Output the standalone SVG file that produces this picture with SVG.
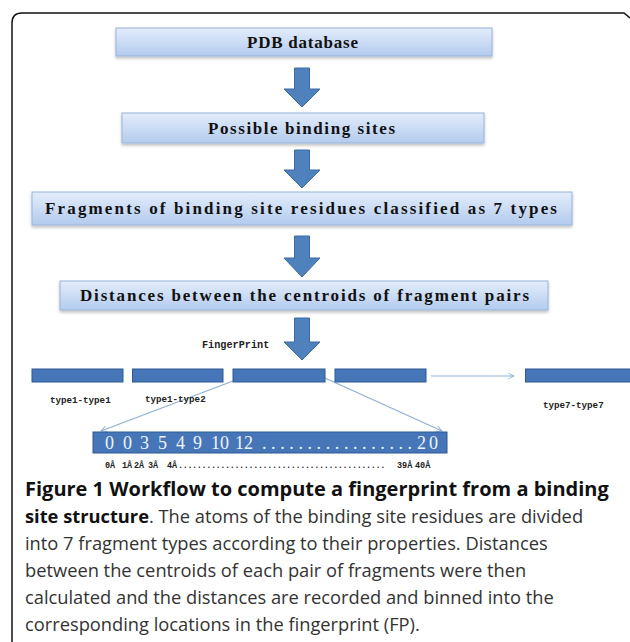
<svg xmlns="http://www.w3.org/2000/svg" width="630" height="642" viewBox="0 0 630 642">
<defs>
<linearGradient id="boxg" x1="0" y1="0" x2="0" y2="1">
<stop offset="0" stop-color="#e3edfb"/>
<stop offset="1" stop-color="#b3cbee"/>
</linearGradient>
<filter id="sh" x="-5%" y="-20%" width="110%" height="160%">
<feDropShadow dx="0" dy="2" stdDeviation="1.5" flood-color="#000" flood-opacity="0.25"/>
</filter>
<marker id="vh" viewBox="0 0 10 10" refX="9" refY="5" markerWidth="7" markerHeight="7" orient="auto" markerUnits="userSpaceOnUse">
<path d="M1,1 L9,5 L1,9" fill="none" stroke="#8eafd6" stroke-width="1.3"/>
</marker>
</defs>
<style>
.box{fill:url(#boxg);stroke:#98b4da;stroke-width:1;filter:url(#sh)}
.bt{font-family:"Liberation Serif","DejaVu Serif",serif;font-weight:bold;font-size:17px;fill:#111}
.arr{fill:#4f81bd;stroke:#3b6aa3;stroke-width:1}
.bar{fill:#4676b8;stroke:#2d5a94;stroke-width:1}
.sm{font-family:"Liberation Mono","DejaVu Sans Mono",monospace;font-weight:bold;font-size:9.2px;fill:#222}
.con{stroke:#8eafd6;stroke-width:1.2;fill:none}
.cap{font-family:"Open Sans","Noto Sans",sans-serif;font-size:18.3px;fill:#333}
.capb{font-family:"Open Sans","Noto Sans",sans-serif;font-size:20px;font-weight:bold;fill:#111}
</style>
<rect width="630" height="642" fill="#fff"/>
<path d="M12,642 V23 Q12,13 22,13 H624 L630,18" fill="none" stroke="#111" stroke-width="1.5"/>

<g id="n-pdb"><rect class="box" x="116" y="28" width="376" height="28"/><text class="bt" x="247" y="48" textLength="111" lengthAdjust="spacing">PDB database</text></g>
<g id="n-sites"><rect class="box" x="122" y="113" width="362" height="30"/><text class="bt" x="208" y="134" textLength="187" lengthAdjust="spacing">Possible binding sites</text></g>
<g id="n-frag"><rect class="box" x="32" y="192" width="540" height="33"/><text class="bt" x="45" y="214" textLength="512" lengthAdjust="spacing">Fragments of binding site residues classified as 7 types</text></g>
<g id="n-dist"><rect class="box" x="60" y="281" width="488" height="29"/><text class="bt" x="80" y="301" textLength="449" lengthAdjust="spacing">Distances between the centroids of fragment pairs</text></g>

<g id="connectors">
<path class="arr" d="M294.5,68 H309.5 V89 H320 L302,107 L284,89 H294.5 Z"/>
<path class="arr" d="M294.5,150 H309.5 V170 H320 L302,188 L284,170 H294.5 Z"/>
<path class="arr" d="M294.5,236 H309.5 V258 H320 L302,277 L284,258 H294.5 Z"/>
<path class="arr" d="M294.5,318 H309.5 V342 H320 L302,360 L284,342 H294.5 Z"/>
<line class="con" x1="431" y1="376" x2="514" y2="376" marker-end="url(#vh)"/>
<line class="con" x1="233" y1="381" x2="101" y2="431" marker-end="url(#vh)"/>
<line class="con" x1="325" y1="378" x2="442" y2="431" marker-end="url(#vh)"/>
</g>

<g id="n-fp-label"><text class="sm" x="202" y="348" style="font-size:10.2px">FingerPrint</text></g>
<g id="n-bar1"><rect class="bar" x="32" y="369" width="91" height="13"/><text class="sm" x="50" y="403">type1-type1</text></g>
<g id="n-bar2"><rect class="bar" x="132.5" y="369" width="90.5" height="13"/><text class="sm" x="145" y="402">type1-type2</text></g>
<g id="n-bar3"><rect class="bar" x="233" y="369" width="92" height="13"/></g>
<g id="n-bar4"><rect class="bar" x="335" y="369" width="91" height="13"/></g>
<g id="n-bar7"><rect class="bar" x="525.5" y="369" width="106" height="13"/><text class="sm" x="543" y="408">type7-type7</text></g>

<g id="n-fpbar">
<rect class="bar" x="93" y="432" width="354" height="21"/>
<text style="font-family:'Liberation Serif','DejaVu Serif',serif;font-size:18px;fill:#eef3fb"><tspan x="105" y="449">0</tspan><tspan x="123" y="449">0</tspan><tspan x="140" y="449">3</tspan><tspan x="158" y="449">5</tspan><tspan x="176" y="449">4</tspan><tspan x="193" y="449">9</tspan><tspan x="211" y="449">10</tspan><tspan x="235" y="449">12</tspan><tspan x="262" y="449" letter-spacing="4.6">.................</tspan><tspan x="417" y="449">2</tspan><tspan x="429" y="449">0</tspan></text>
</g>
<g id="n-scale">
<text class="sm" style="font-size:8.5px"><tspan x="105" y="468">0Å</tspan><tspan x="122" y="468">1Å</tspan><tspan x="134" y="468">2Å</tspan><tspan x="148" y="468">3Å</tspan><tspan x="167" y="468">4Å</tspan><tspan x="178" y="468" letter-spacing="-0.4">............................................</tspan><tspan x="397" y="468">39Å</tspan><tspan x="415" y="468">40Å</tspan></text>
</g>

<g id="caption">
<text class="capb" x="25" y="496">Figure 1 Workflow to compute a fingerprint from a binding</text>
<text class="cap" x="25" y="523"><tspan class="capb" style="font-size:18.3px">site structure</tspan>. The atoms of the binding site residues are divided</text>
<text class="cap" x="25" y="550">into 7 fragment types according to their properties. Distances</text>
<text class="cap" x="25" y="577">between the centroids of each pair of fragments were then</text>
<text class="cap" x="25" y="604">calculated and the distances are recorded and binned into the</text>
<text class="cap" x="25" y="631">corresponding locations in the fingerprint (FP).</text>
</g>
</svg>
